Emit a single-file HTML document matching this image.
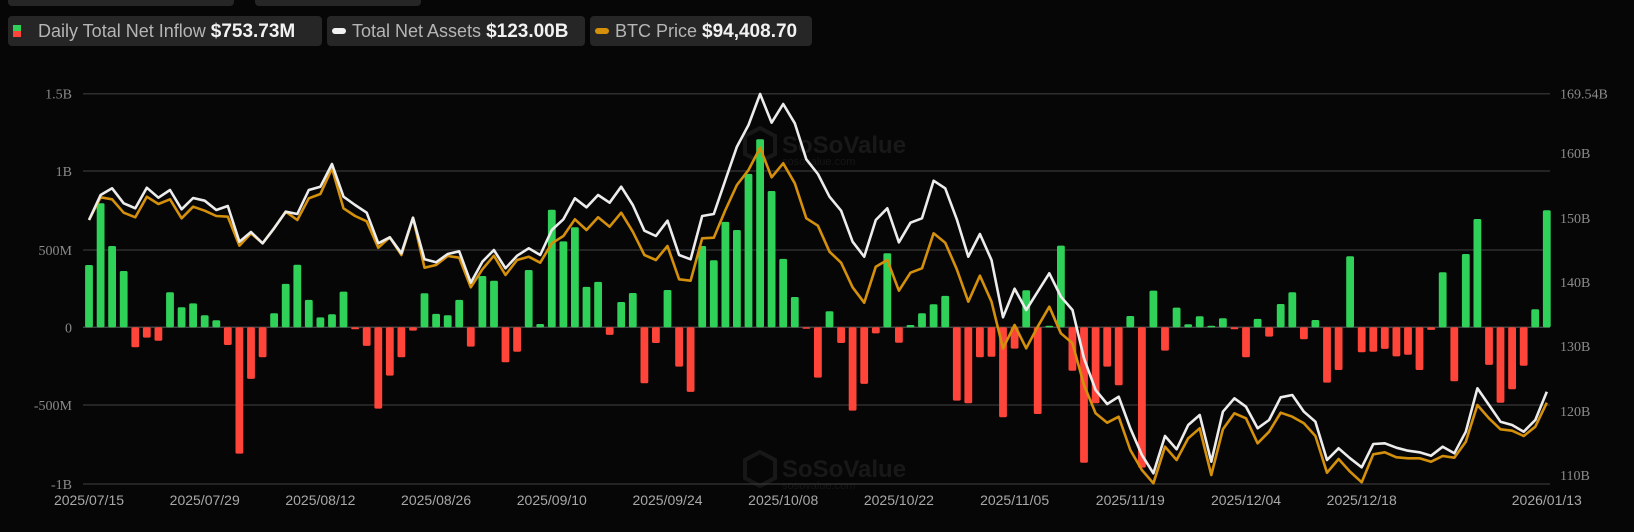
<!DOCTYPE html>
<html><head><meta charset="utf-8">
<style>
html,body{margin:0;padding:0;background:#060606;width:1634px;height:532px;overflow:hidden;font-family:"Liberation Sans",sans-serif}
.box{position:absolute;top:16px;height:30px;background:#262626;border-radius:4px;color:#b5b5b5;font-size:18px;line-height:30px;white-space:nowrap}
.box b{color:#f2f2f2;font-size:19px}
.top{position:absolute;top:-6px;height:12px;background:#262626;border-radius:4px}
svg{position:absolute;left:0;top:0}
</style></head><body>
<div class="top" style="left:8px;width:226px"></div>
<div class="top" style="left:255px;width:166px"></div>
<div class="box" style="left:8px;width:314px"><span style="position:absolute;left:5px;top:9px;width:8px;height:6px;background:#30d158"></span><span style="position:absolute;left:5px;top:15px;width:8px;height:6px;background:#ff453a"></span><span style="position:absolute;left:30px">Daily Total Net Inflow <b>$753.73M</b></span></div>
<div class="box" style="left:327px;width:258px"><span style="position:absolute;left:5px;top:12px;width:14px;height:6px;border-radius:3px;background:#f2f2f2"></span><span style="position:absolute;left:25px">Total Net Assets <b>$123.00B</b></span></div>
<div class="box" style="left:590px;width:222px"><span style="position:absolute;left:5px;top:12px;width:14px;height:6px;border-radius:3px;background:#d4900a"></span><span style="position:absolute;left:25px">BTC Price <b>$94,408.70</b></span></div>
<svg id="c" width="1634" height="532" xmlns="http://www.w3.org/2000/svg"></svg>
<script>
var bars=[401,798,523,362,-129,-66,-86,225,129,154,77,45,-114,-813,-332,-193,90,279,403,176,64,84,230,-13,-120,-523,-311,-193,-21,219,86,77,176,-124,330,300,-225,-157,369,21,757,553,644,260,292,-49,163,221,-360,-101,240,-253,-416,523,431,678,626,987,1210,877,440,195,-3,-324,103,-101,-536,-364,-39,476,-99,15,90,148,202,-472,-489,-193,-189,-579,-137,238,-558,4,526,-279,-871,-489,-253,-373,73,-903,236,-150,127,19,71,9,58,-13,-193,54,-60,150,225,-77,47,-356,-275,457,-161,-157,-139,-187,-176,-275,-17,354,-347,472,697,-242,-485,-399,-247,116,753];
var W=[420,345,325,370,385,323,353,330,388,354,362,390,378,485,456,490,445,395,402,330,320,252,350,375,398,490,472,520,413,538,547,522,514,608,545,510,565,527,505,525,450,418,355,382,345,368,320,375,452,468,422,525,538,408,402,300,200,135,42,128,72,130,238,282,350,392,485,530,420,385,487,428,415,302,325,418,530,462,540,712,626,690,635,580,650,690,835,930,972,950,1045,1125,1180,1068,1108,1035,1005,1145,995,955,980,1045,1020,952,945,995,1025,1140,1105,1135,1162,1092,1090,1103,1112,1117,1127,1100,1120,1055,925,975,1025,1035,1055,1020,935];
var O=[420,352,358,398,412,350,372,358,415,380,392,408,410,497,460,490,445,395,420,355,342,265,385,408,424,503,472,525,413,563,555,528,533,622,568,527,585,540,530,548,490,468,418,450,412,440,398,455,525,540,498,598,602,475,473,390,315,270,203,292,250,310,415,437,515,548,622,668,560,540,632,578,565,460,488,568,665,587,665,805,735,805,740,680,760,790,915,1000,1028,1010,1110,1170,1210,1100,1140,1075,1045,1185,1048,1000,1015,1090,1055,998,1010,1030,1068,1178,1137,1175,1207,1123,1117,1132,1135,1135,1145,1128,1133,1085,975,1015,1048,1052,1068,1040,968];
var s='',x0=89,dx=11.57,z=327.3,k=77.7/500;
var grid=[[93.7,'1.5B'],[171,'1B'],[250,'500M'],[327.3,'0'],[405,'-500M'],[484,'-1B']];
grid.forEach(function(g){s+='<line x1="83" x2="1550" y1="'+g[0]+'" y2="'+g[0]+'" stroke="'+(g[1]=='0'?'#444':'#2e2e2e')+'" stroke-width="1.5"/>';
s+='<text x="72" y="'+(g[0]+5)+'" text-anchor="end" fill="#8a8a8a" font-family="Liberation Serif,serif" font-size="14">'+g[1]+'</text>';});
[[93.7,'169.54B'],[153,'160B'],[218,'150B'],[282,'140B'],[346,'130B'],[411,'120B'],[475,'110B']].forEach(function(g){s+='<text x="1560" y="'+(g[0]+5)+'" fill="#8a8a8a" font-family="Liberation Serif,serif" font-size="14">'+g[1]+'</text>';});
[[150],[474]].forEach(function(w){s+='<g opacity="0.35"><polygon points="745,'+(w[0]-14)+' 760,'+(w[0]-22)+' 775,'+(w[0]-14)+' 775,'+(w[0]+4)+' 760,'+(w[0]+12)+' 745,'+(w[0]+4)+'" fill="none" stroke="#3a3a3a" stroke-width="4"/><text x="782" y="'+(w[0]+3)+'" fill="#3a3a3a" font-size="24" font-weight="bold">SoSoValue</text><text x="782" y="'+(w[0]+15)+'" fill="#333" font-size="11">sosovalue.com</text></g>';});
bars.forEach(function(v,i){var x=x0+i*dx-3.9,h=Math.abs(v)*k;if(h<1.5)h=1.5;var y=v>=0?z-h:z;
s+='<rect x="'+x.toFixed(1)+'" y="'+y.toFixed(1)+'" width="7.8" height="'+h.toFixed(1)+'" rx="1.5" fill="'+(v>=0?'#30d158':'#ff453a')+'"/>';});
function pl(a,c){return '<polyline fill="none" stroke="'+c+'" stroke-width="2.6" stroke-linejoin="round" points="'+a.map(function(z,i){return (x0+i*dx).toFixed(1)+','+(80+z/3).toFixed(1)}).join(' ')+'"/>';}
s+=pl(O,'#d4900a')+pl(W,'#ececec');
var lab=['2025/07/15','2025/07/29','2025/08/12','2025/08/26','2025/09/10','2025/09/24','2025/10/08','2025/10/22','2025/11/05','2025/11/19','2025/12/04','2025/12/18'];
lab.forEach(function(t,i){s+='<text x="'+(x0+i*10*dx)+'" y="505" text-anchor="middle" fill="#a8a8a8" font-size="14">'+t+'</text>';});
s+='<text x="'+(x0+126*dx)+'" y="505" text-anchor="middle" fill="#a8a8a8" font-size="14">2026/01/13</text>';
document.getElementById('c').innerHTML=s;
</script>
</body></html>
